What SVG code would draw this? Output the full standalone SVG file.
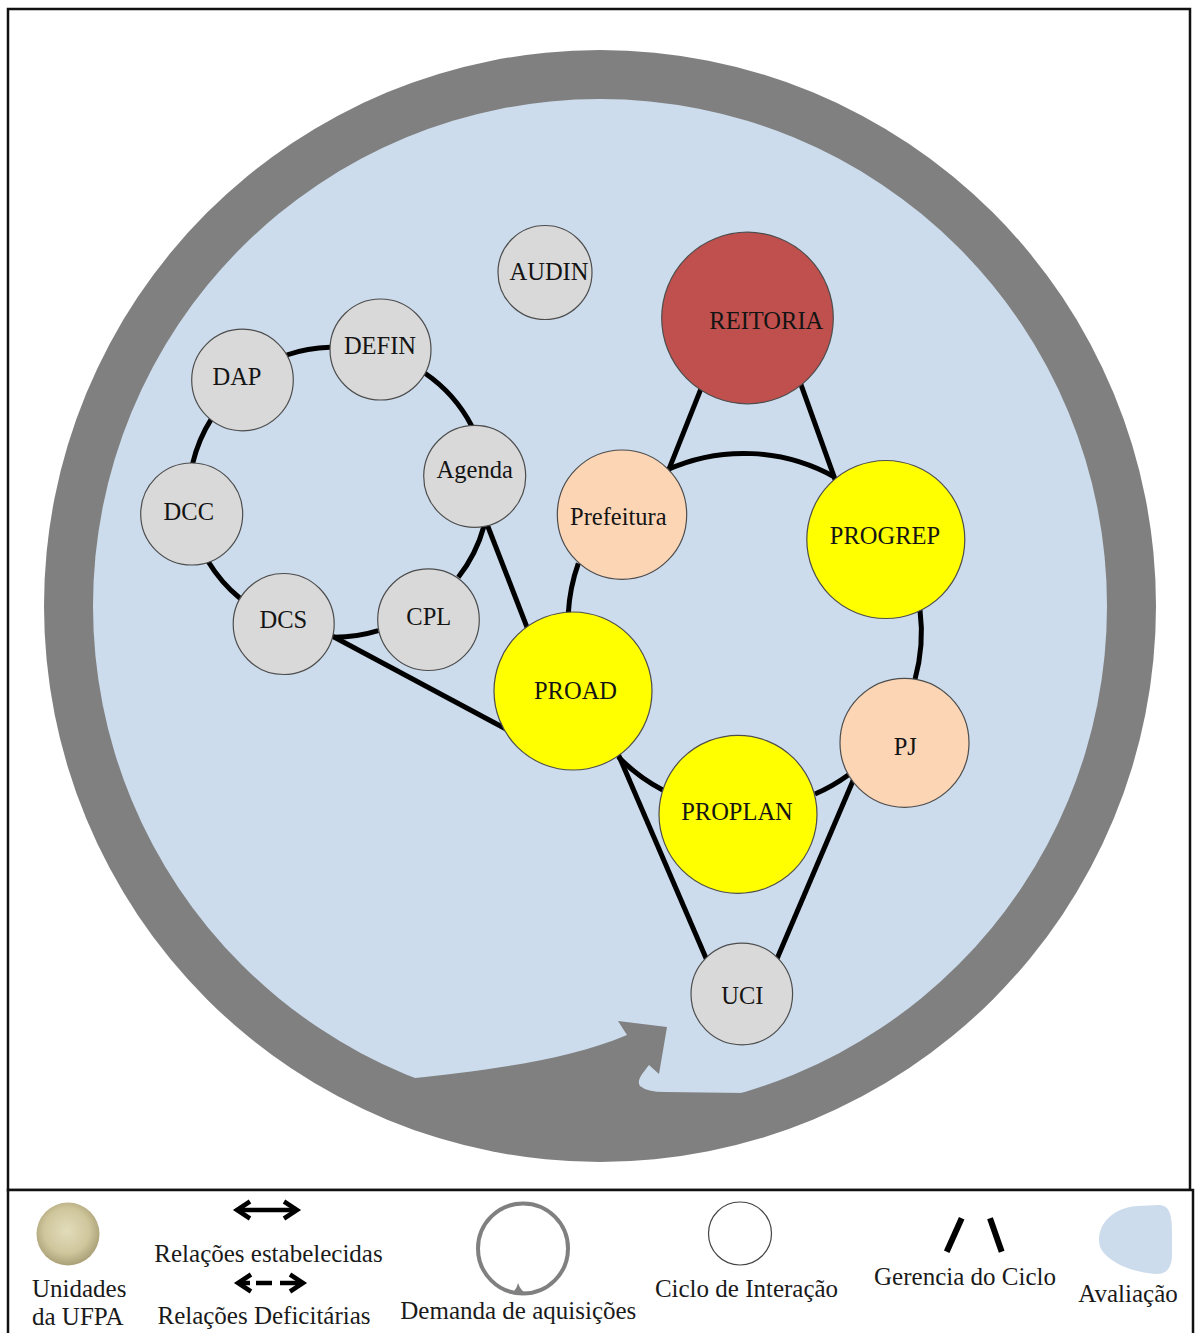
<svg xmlns="http://www.w3.org/2000/svg" width="1196" height="1333" viewBox="0 0 1196 1333">
  <style>
    .frame { fill: #ffffff; stroke: #111111; stroke-width: 2.5; }
    .node circle { stroke: #4d4d4d; stroke-width: 1.2; }
    .unit { fill: #d9d9d9; }
    .pro { fill: #ffff00; }
    .peach { fill: #fcd5b5; }
    .rector { fill: #c0504d; }
    .label { font-family: "Liberation Serif", "Times New Roman", serif; font-size: 24.5px; fill: #141414; text-anchor: middle; }
    .legend-text { font-family: "Liberation Serif", "Times New Roman", serif; font-size: 25px; fill: #1a1a1a; text-anchor: middle; }
    .legend-text.left { text-anchor: start; }
    .link { fill: none; stroke: #000000; stroke-width: 5; stroke-linecap: butt; }
    .ring { fill: #808080; }
    .field { fill: #ccdcec; }
  </style>
  <defs>
    <radialGradient id="goldBall" cx="48%" cy="45%" r="55%">
      <stop offset="0%" stop-color="#e2dcbb"/>
      <stop offset="65%" stop-color="#cfc69c"/>
      <stop offset="100%" stop-color="#aaa077"/>
    </radialGradient>
  </defs>

  <!-- outer frames -->
  <rect class="frame" x="8" y="9" width="1182" height="1181"/>
  <rect class="frame" x="8" y="1190" width="1185" height="160"/>

  <!-- acquisition-demand ring (circular arrow) and evaluation field -->
  <g id="demand-ring">
    <circle class="ring" cx="600" cy="606" r="556"/>
    <circle class="field" cx="600" cy="606" r="507"/>
    <!-- arrow shaft and head, closed outside the field edge to avoid a seam -->
    <path class="ring" d="M 415 1078 C 470 1072, 565 1062, 627 1035 L 618 1021 L 667 1027 L 659 1074 L 649 1065 C 643 1073, 636 1080, 640 1086 Q 647 1092, 665 1092 L 745 1093 L 751.3 1114 A 530 530 0 0 1 406.7 1099.3 Z"/>
  </g>

  <!-- connectors -->
  <g id="connectors">
    <!-- left cycle -->
    <path class="link" d="M 192.7 463.3 A 145 145 0 0 1 211.7 418.3"/>
    <path class="link" d="M 286.7 355 A 145 145 0 0 1 330 347.3"/>
    <path class="link" d="M 425 373.3 A 145 145 0 0 1 471.7 426"/>
    <path class="link" d="M 484 526 A 145 145 0 0 1 458.3 577.3"/>
    <path class="link" d="M 378.3 630.7 A 150 150 0 0 1 334 637.3"/>
    <path class="link" d="M 240 598.3 A 145 145 0 0 1 208.3 561.7"/>
    <line class="link" x1="484.4" y1="517.5" x2="528.6" y2="631.3"/>
    <line class="link" x1="327" y1="633.2" x2="508.8" y2="730.5"/>
    <!-- right cycle -->
    <path class="link" d="M 666.7 470 A 187 187 0 0 1 835 477.3"/>
    <path class="link" d="M 920 610 A 178 178 0 0 1 915 679.3"/>
    <path class="link" d="M 848.3 775 A 172 172 0 0 1 815 794"/>
    <path class="link" d="M 662.7 790 A 172 172 0 0 1 618.3 756.7"/>
    <path class="link" d="M 568.3 613.3 A 178 178 0 0 1 578.3 563.3"/>
    <!-- management links -->
    <line class="link" x1="702.3" y1="385.3" x2="666.1" y2="476.3"/>
    <line class="link" x1="799" y1="379.2" x2="837" y2="484.8"/>
    <line class="link" x1="617.6" y1="752.8" x2="708.4" y2="963.8"/>
    <line class="link" x1="856.4" y1="772.8" x2="775.3" y2="962.8"/>
  </g>

  <!-- nodes -->
  <g id="node-audin" class="node">
    <circle class="unit" cx="545" cy="272.5" r="47"/>
    <text class="label" x="549" y="280">AUDIN</text>
  </g>
  <g id="node-dap" class="node">
    <circle class="unit" cx="242.5" cy="380" r="50.8"/>
    <text class="label" x="237" y="385">DAP</text>
  </g>
  <g id="node-defin" class="node">
    <circle class="unit" cx="380.5" cy="349.5" r="50.5"/>
    <text class="label" x="380" y="354">DEFIN</text>
  </g>
  <g id="node-agenda" class="node">
    <circle class="unit" cx="474.7" cy="476.3" r="51"/>
    <text class="label" x="474.7" y="477.7">Agenda</text>
  </g>
  <g id="node-dcc" class="node">
    <circle class="unit" cx="191.7" cy="514" r="51"/>
    <text class="label" x="188.8" y="520">DCC</text>
  </g>
  <g id="node-dcs" class="node">
    <circle class="unit" cx="283.7" cy="624" r="50.5"/>
    <text class="label" x="283.3" y="628.3">DCS</text>
  </g>
  <g id="node-cpl" class="node">
    <circle class="unit" cx="428.5" cy="619.7" r="50.8"/>
    <text class="label" x="428.8" y="625">CPL</text>
  </g>
  <g id="node-reitoria" class="node">
    <circle class="rector" cx="747.5" cy="318" r="85.8"/>
    <text class="label" x="766.3" y="329.3">REITORIA</text>
  </g>
  <g id="node-prefeitura" class="node">
    <circle class="peach" cx="622" cy="514.7" r="64.7"/>
    <text class="label" x="618.3" y="525">Prefeitura</text>
  </g>
  <g id="node-progrep" class="node">
    <circle class="pro" cx="885.8" cy="539.5" r="79"/>
    <text class="label" x="885" y="544">PROGREP</text>
  </g>
  <g id="node-proad" class="node">
    <circle class="pro" cx="573" cy="691" r="79"/>
    <text class="label" x="575.5" y="699.3">PROAD</text>
  </g>
  <g id="node-proplan" class="node">
    <circle class="pro" cx="738" cy="814.3" r="79"/>
    <text class="label" x="737" y="820">PROPLAN</text>
  </g>
  <g id="node-pj" class="node">
    <circle class="peach" cx="904.5" cy="742.8" r="64.5"/>
    <text class="label" x="905.3" y="755">PJ</text>
  </g>
  <g id="node-uci" class="node">
    <circle class="unit" cx="741.8" cy="994" r="50.8"/>
    <text class="label" x="742.3" y="1004">UCI</text>
  </g>

  <!-- legend -->
  <g id="legend">
    <circle cx="68" cy="1234" r="31.5" fill="url(#goldBall)"/>
    <text class="legend-text left" x="32" y="1297">Unidades</text>
    <text class="legend-text left" x="32" y="1325">da UFPA</text>

    <g fill="none" stroke="#000" stroke-width="4.5" stroke-linejoin="miter">
      <line x1="238" y1="1210" x2="296" y2="1210"/>
      <polyline points="250,1201.5 237,1210 250,1218.5"/>
      <polyline points="284,1201.5 297,1210 284,1218.5"/>
    </g>
    <text class="legend-text" x="268.5" y="1262">Relações estabelecidas</text>

    <g fill="none" stroke="#000" stroke-width="4.5" stroke-linejoin="miter">
      <polyline points="251,1274.5 238,1283 251,1291.5"/>
      <line x1="240" y1="1283" x2="250" y2="1283"/>
      <line x1="256" y1="1283" x2="272" y2="1283"/>
      <line x1="280" y1="1283" x2="302" y2="1283"/>
      <polyline points="290,1274.5 303,1283 290,1291.5"/>
    </g>
    <text class="legend-text" x="264" y="1324">Relações Deficitárias</text>

    <circle cx="523" cy="1248.5" r="45" fill="none" stroke="#808080" stroke-width="4"/>
    <path d="M 509 1294 Q 516 1292 518 1283 Q 521 1292 528 1294 Z" fill="#808080"/>
    <text class="legend-text" x="518.3" y="1319">Demanda de aquisições</text>

    <circle cx="740" cy="1233.5" r="31.5" fill="none" stroke="#444" stroke-width="1.2"/>
    <text class="legend-text" x="746.5" y="1297">Ciclo de Interação</text>

    <g stroke="#000" stroke-width="6">
      <line x1="961.7" y1="1218.3" x2="946.7" y2="1251.7"/>
      <line x1="990" y1="1218.3" x2="1001.7" y2="1251.7"/>
    </g>
    <text class="legend-text" x="965" y="1285">Gerencia do Ciclo</text>

    <path class="field" d="M 1099 1240 C 1099 1222, 1115 1207, 1138 1206 L 1158 1205 C 1170 1205, 1172 1215, 1172 1232 L 1172 1255 C 1172 1268, 1166 1275, 1155 1274 C 1135 1272, 1118 1266, 1108 1257 C 1102 1252, 1099 1247, 1099 1240 Z"/>
    <text class="legend-text" x="1128" y="1302">Avaliação</text>
  </g>
</svg>
